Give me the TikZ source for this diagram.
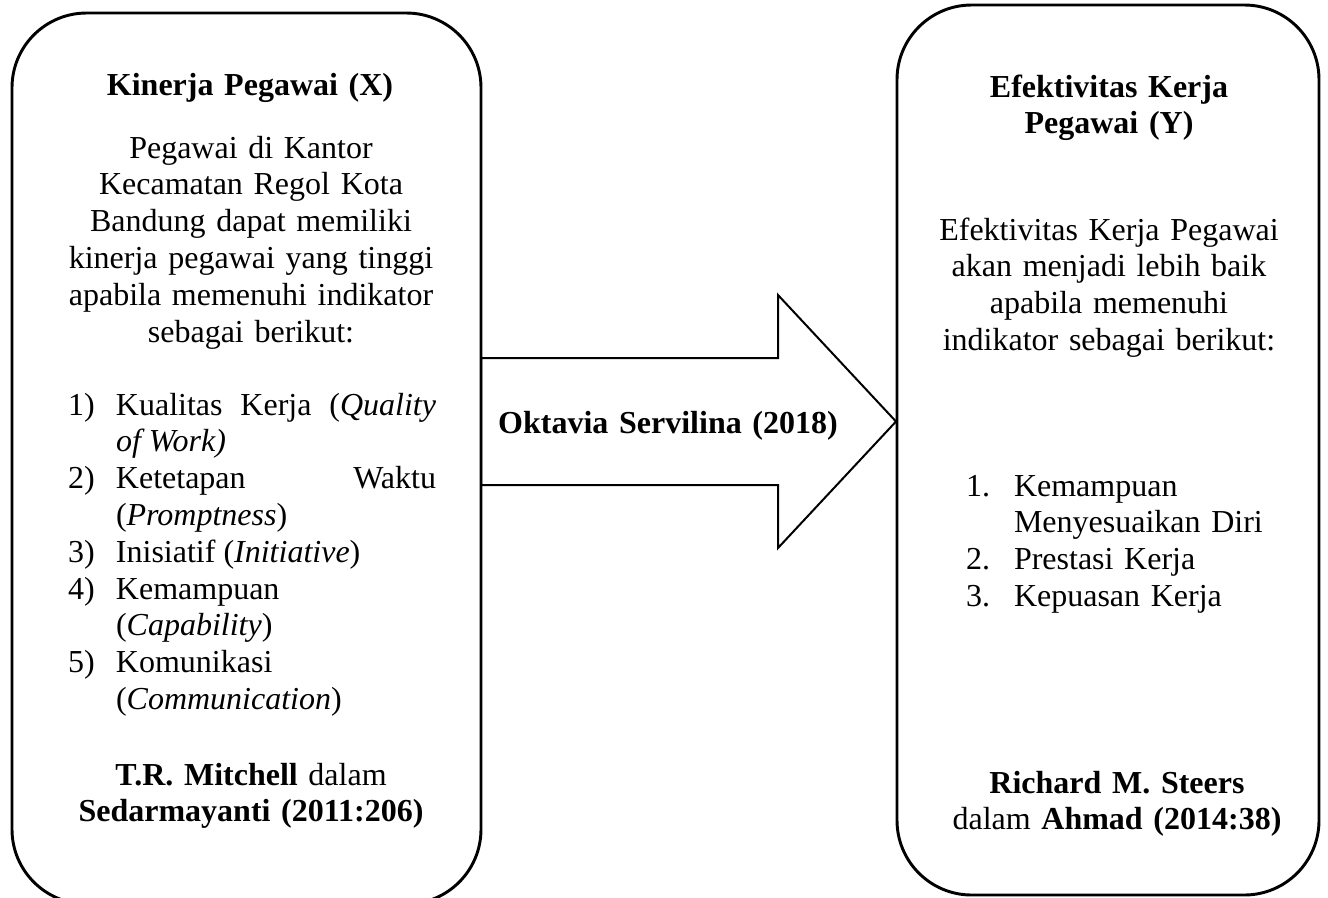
\documentclass[tikz,border=0pt]{standalone}
\usepackage{fontspec}
\setmainfont{Liberation Serif}

\tikzset{every picture/.style={line width=0.75pt}}
\tikzset{
  panel/.style={line width=1.1pt, rounded corners=28pt},
  blockarrow/.style={line width=0.75pt, line join=miter},
  centretext/.style={inner sep=0pt, anchor=base, align=center, text width=#1, font=\fontsize{12}{13.8}\selectfont},
  centretext/.default=140pt,
  listtext/.style={inner sep=0pt, anchor=base west, align=justify, text width=#1, font=\fontsize{12}{13.8}\selectfont},
}
\newcommand{\butir}[2]{\noindent\hangindent=18pt\hangafter=1\makebox[18pt][l]{#1}#2\par}

\begin{document}
\begin{tikzpicture}[x=0.375pt,y=0.375pt,yscale=-1,xscale=1]
		\useasboundingbox (0,0) rectangle (1328,897);

		%Rounded Rect: variable X
		\draw [panel] (12,13) rectangle (481,904);
		%Rounded Rect: variable Y
		\draw [panel] (897,5) rectangle (1319,895);

		%Right Arrow
		\coordinate (arrowtail) at (481,421.5);
		\coordinate (arrowtip) at (896,421.5);
		\draw [blockarrow] (arrowtail) ++(0,-63.5) -- ++(297,0) -- ++(0,-63) -- (arrowtip) -- ++(-118,126.5) -- ++(0,-63) -- ++(-297,0) -- cycle;

		% Text Node
		\node [centretext] (titleX) at (250,95) {\textbf{Kinerja Pegawai (X)}};
		% Text Node
		\node [centretext] (textX) at (251,158) {Pegawai di Kantor\\ Kecamatan Regol Kota\\ Bandung dapat memiliki\\ kinerja pegawai yang tinggi\\ apabila memenuhi indikator\\ sebagai berikut:};
		% Text Node
		\node [listtext=138pt] (listX) at (67,415) {%
			\butir{1)}{Kualitas Kerja (\textit{Quality}\linebreak \textit{of Work)}}%
			\butir{2)}{Ketetapan Waktu\linebreak (\textit{Promptness})}%
			\butir{3)}{Inisiatif (\textit{Initiative})}%
			\butir{4)}{Kemampuan\newline (\textit{Capability})}%
			\butir{5)}{Komunikasi\newline (\textit{Communication})}};
		% Text Node
		\node [centretext] (sourceX) at (251,785) {\textbf{T.R. Mitchell} dalam\\ \textbf{Sedarmayanti (2011:206)}};

		% Text Node
		\node [centretext=135pt] (titleY) at (1109,97) {\textbf{Efektivitas Kerja}\\ \textbf{Pegawai (Y)}};
		% Text Node
		\node [centretext=135pt] (textY) at (1109,240) {Efektivitas Kerja Pegawai\\ akan menjadi lebih baik\\ apabila memenuhi\\ indikator sebagai berikut:};
		% Text Node
		\node [listtext=112pt, align=left] (listY) at (965,496) {%
			\butir{1.}{Kemampuan\newline Menyesuaikan Diri}%
			\butir{2.}{Prestasi Kerja}%
			\butir{3.}{Kepuasan Kerja}};
		% Text Node
		\node [centretext=135pt] (sourceY) at (1117,793) {\textbf{Richard M. Steers}\\ dalam \textbf{Ahmad (2014:38)}};

		% Text Node
		\node [centretext=160pt] (researcher) at (668,433) {\textbf{Oktavia Servilina (2018)}};

\end{tikzpicture}
\end{document}
